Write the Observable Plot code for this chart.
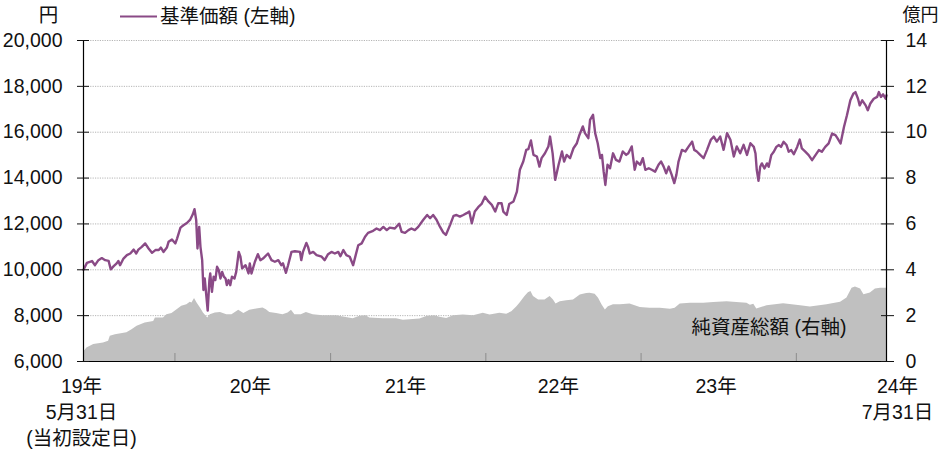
<!DOCTYPE html>
<html><head><meta charset="utf-8">
<script src="https://cdn.jsdelivr.net/npm/d3@7"></script>
<script src="https://cdn.jsdelivr.net/npm/@observablehq/plot@0.6"></script>
<style>
body{margin:0;background:#fff;}
#wrap{position:relative;width:941px;height:452px;font-family:"Liberation Sans",Arial,"Noto Sans CJK JP",sans-serif;color:#111;}
#legend{position:absolute;left:120px;top:4px;font-size:19.5px;line-height:24px;display:flex;align-items:center;}
#legend svg{display:block;}
</style></head><body>
<div id="wrap"><div id="legend"><svg width="40" height="24"><line x1="0" x2="37" y1="12.5" y2="12.5" stroke="#8a4a86" stroke-width="2"/></svg><span>基準価額 (左軸)</span></div></div>
<script>
// 基準価額 (円)
const nav = [
["2019-05-31",10000],["2019-06-08",10300],["2019-06-20",10380],["2019-06-27",10200],["2019-07-05",10420],["2019-07-13",10510],["2019-07-21",10420],["2019-07-29",10390],
["2019-08-03",10020],["2019-08-10",10160],["2019-08-17",10280],["2019-08-21",10380],["2019-08-25",10200],["2019-09-02",10490],["2019-09-10",10640],["2019-09-18",10710],
["2019-09-26",10880],["2019-10-02",10710],["2019-10-07",10880],["2019-10-15",11000],["2019-10-23",11150],["2019-10-31",10930],["2019-11-08",10740],["2019-11-16",10860],
["2019-11-24",10860],["2019-11-29",10970],["2019-12-05",10780],["2019-12-13",10970],["2019-12-17",11220],["2019-12-25",11320],["2020-01-02",11150],["2020-01-06",11360],
["2020-01-14",11840],["2020-01-21",11940],["2020-01-29",12040],["2020-02-06",12190],["2020-02-12",12420],["2020-02-16",12640],["2020-02-20",12160],["2020-02-23",10930],
["2020-02-27",11870],["2020-03-01",11000],["2020-03-05",10420],["2020-03-08",9120],["2020-03-11",9620],["2020-03-15",8830],["2020-03-18",8220],["2020-03-22",9550],
["2020-03-24",9840],["2020-03-28",9040],["2020-04-01",9700],["2020-04-05",9550],["2020-04-09",10130],["2020-04-13",9990],["2020-04-17",9620],["2020-04-21",9910],
["2020-04-25",9700],["2020-04-29",9620],["2020-05-02",9330],["2020-05-06",9550],["2020-05-10",9330],["2020-05-14",9700],["2020-05-20",9620],["2020-05-24",9910],
["2020-05-30",10780],["2020-06-03",10570],["2020-06-07",10060],["2020-06-15",10200],["2020-06-22",9840],["2020-06-25",10280],["2020-06-29",9840],["2020-07-07",10350],
["2020-07-14",10680],["2020-07-20",10420],["2020-07-26",10490],["2020-08-07",10710],["2020-08-15",10420],["2020-08-23",10350],["2020-08-31",10420],["2020-09-07",10200],
["2020-09-11",10280],["2020-09-18",9870],["2020-09-23",10200],["2020-10-01",10780],["2020-10-09",10810],["2020-10-21",10780],["2020-10-24",10420],["2020-10-28",10780],
["2020-11-05",11170],["2020-11-09",11000],["2020-11-13",10710],["2020-11-21",10780],["2020-11-29",10640],["2020-12-11",10570],["2020-12-18",10420],["2020-12-26",10680],
["2021-01-03",10780],["2021-01-11",10710],["2021-01-19",10780],["2021-01-24",10590],["2021-01-31",10860],["2021-02-07",10640],["2021-02-15",10570],["2021-02-23",10200],
["2021-03-01",10640],["2021-03-07",11070],["2021-03-15",11150],["2021-03-23",11440],["2021-03-30",11610],["2021-04-11",11700],["2021-04-19",11800],["2021-04-27",11730],
["2021-05-05",11870],["2021-05-13",11730],["2021-05-20",11840],["2021-06-01",11800],["2021-06-11",12010],["2021-06-17",11650],["2021-06-25",11610],["2021-07-03",11730],
["2021-07-10",11800],["2021-07-18",11730],["2021-07-26",11870],["2021-08-07",12180],["2021-08-16",12390],["2021-08-23",12250],["2021-08-30",12390],["2021-09-07",12180],
["2021-09-15",11880],["2021-09-23",11620],["2021-09-29",11520],["2021-10-09",11960],["2021-10-17",12350],["2021-10-24",12390],["2021-11-01",12320],["2021-11-09",12390],
["2021-11-17",12470],["2021-11-23",12540],["2021-11-29",12030],["2021-12-06",12540],["2021-12-14",12730],["2021-12-22",12870],["2021-12-30",13190],["2022-01-07",12980],
["2022-01-15",12830],["2022-01-23",12540],["2022-01-30",12900],["2022-02-07",12900],["2022-02-11",12540],["2022-02-19",12390],["2022-02-25",12870],["2022-03-07",12980],
["2022-03-15",13410],["2022-03-22",14360],["2022-03-30",14720],["2022-04-06",15230],["2022-04-11",15260],["2022-04-17",15640],["2022-04-23",15010],["2022-05-01",14940],
["2022-05-07",14500],["2022-05-12",14870],["2022-05-20",15080],["2022-05-28",15380],["2022-06-01",15810],["2022-06-07",15080],["2022-06-13",13920],["2022-06-21",14580],
["2022-06-29",15160],["2022-07-04",14720],["2022-07-10",15010],["2022-07-18",14870],["2022-07-26",15300],["2022-08-03",15520],["2022-08-09",15880],["2022-08-17",16250],
["2022-08-22",15960],["2022-08-30",15740],["2022-09-03",16540],["2022-09-10",16760],["2022-09-15",15960],["2022-09-21",15520],["2022-09-27",14870],["2022-10-01",15010],
["2022-10-05",14280],["2022-10-09",13700],["2022-10-14",14580],["2022-10-20",14430],["2022-10-27",15080],["2022-11-03",14790],["2022-11-11",14720],["2022-11-19",15160],
["2022-11-27",15010],["2022-12-02",15080],["2022-12-10",15380],["2022-12-17",14360],["2022-12-22",14720],["2022-12-30",14580],["2023-01-05",14870],["2023-01-11",14360],
["2023-01-19",14430],["2023-01-26",14360],["2023-02-03",14280],["2023-02-11",14580],["2023-02-17",14720],["2023-02-23",14500],["2023-03-01",14210],["2023-03-07",14500],
["2023-03-14",14140],["2023-03-20",13780],["2023-03-25",14140],["2023-03-30",14720],["2023-04-07",15230],["2023-04-15",15160],["2023-04-23",15380],["2023-05-01",15590],
["2023-05-06",15230],["2023-05-12",15160],["2023-05-20",15010],["2023-05-28",14870],["2023-06-05",15230],["2023-06-14",15670],["2023-06-21",15810],["2023-06-28",15590],
["2023-07-06",15810],["2023-07-14",15230],["2023-07-22",15960],["2023-07-30",15670],["2023-08-07",14940],["2023-08-14",15380],["2023-08-22",15080],["2023-08-30",15450],
["2023-09-07",15010],["2023-09-15",15520],["2023-09-23",15360],["2023-09-27",15070],["2023-09-30",14350],["2023-10-04",13880],["2023-10-08",14490],["2023-10-12",14640],
["2023-10-18",14420],["2023-10-24",14640],["2023-10-28",14490],["2023-11-03",15000],["2023-11-09",15150],["2023-11-15",15360],["2023-11-21",15440],["2023-11-26",15360],
["2023-12-02",15580],["2023-12-09",15440],["2023-12-14",15150],["2023-12-20",15220],["2023-12-26",15040],["2024-01-03",15360],["2024-01-09",15680],["2024-01-14",15290],
["2024-01-22",15150],["2024-01-30",15000],["2024-02-07",14780],["2024-02-15",15000],["2024-02-23",15220],["2024-03-01",15150],["2024-03-09",15360],["2024-03-17",15510],
["2024-03-25",15940],["2024-04-02",15870],["2024-04-07",15730],["2024-04-14",15510],["2024-04-22",16230],["2024-04-29",16740],["2024-05-07",17390],["2024-05-14",17680],
["2024-05-19",17750],["2024-05-25",17460],["2024-05-29",17170],["2024-06-04",17390],["2024-06-12",17170],["2024-06-17",16960],["2024-06-23",17250],["2024-07-01",17460],
["2024-07-09",17540],["2024-07-13",17750],["2024-07-18",17540],["2024-07-23",17650],["2024-07-29",17460],["2024-07-31",17610]
];
// 純資産総額 (億円)
const assets = [
["2019-05-31",0.40],["2019-06-08",0.59],["2019-06-24",0.74],["2019-07-17",0.81],["2019-07-29",0.88],["2019-08-02",1.10],["2019-08-14",1.17],["2019-09-10",1.25],
["2019-09-22",1.39],["2019-10-04",1.54],["2019-10-23",1.68],["2019-11-12",1.75],["2019-11-16",1.90],["2019-12-05",1.90],["2019-12-13",2.04],["2019-12-25",2.09],
["2020-01-06",2.26],["2020-01-17",2.41],["2020-01-29",2.48],["2020-02-06",2.58],["2020-02-10",2.55],["2020-02-16",2.75],["2020-02-22",2.55],["2020-03-01",2.33],
["2020-03-08",2.12],["2020-03-18",1.90],["2020-03-24",2.04],["2020-04-05",2.12],["2020-04-17",2.14],["2020-05-02",2.04],["2020-05-14",2.04],["2020-05-30",2.23],
["2020-06-11",2.09],["2020-06-25",2.23],["2020-07-11",2.29],["2020-07-26",2.33],["2020-08-03",2.26],["2020-08-11",2.14],["2020-08-27",2.09],["2020-09-11",2.04],
["2020-09-23",2.12],["2020-10-01",2.23],["2020-10-09",2.04],["2020-10-24",2.04],["2020-11-05",2.14],["2020-11-21",2.04],["2020-12-14",2.00],["2021-01-15",2.00],
["2021-01-31",1.94],["2021-02-23",1.86],["2021-03-11",1.97],["2021-03-26",2.00],["2021-04-03",1.90],["2021-05-05",1.86],["2021-06-05",1.86],["2021-06-21",1.80],
["2021-07-30",1.85],["2021-08-15",1.96],["2021-09-03",1.99],["2021-09-15",1.93],["2021-10-01",1.88],["2021-10-17",1.99],["2021-11-09",2.03],["2021-12-03",1.99],
["2021-12-26",2.10],["2022-01-11",2.03],["2022-02-03",2.10],["2022-02-19",2.06],["2022-03-03",2.17],["2022-03-15",2.39],["2022-03-22",2.54],["2022-04-03",2.83],
["2022-04-11",3.00],["2022-04-17",3.05],["2022-04-23",2.83],["2022-05-05",2.68],["2022-05-20",2.68],["2022-06-01",2.83],["2022-06-09",2.68],["2022-06-15",2.51],
["2022-06-25",2.61],["2022-07-10",2.65],["2022-07-26",2.68],["2022-08-11",2.90],["2022-08-26",2.97],["2022-09-03",2.98],["2022-09-15",2.93],["2022-09-23",2.76],
["2022-10-01",2.47],["2022-10-09",2.25],["2022-10-16",2.39],["2022-10-28",2.47],["2022-11-13",2.47],["2022-12-06",2.51],["2022-12-30",2.36],["2023-01-22",2.32],
["2023-02-15",2.32],["2023-03-11",2.28],["2023-03-22",2.32],["2023-04-03",2.51],["2023-04-27",2.54],["2023-05-28",2.54],["2023-06-21",2.57],["2023-07-22",2.61],
["2023-08-14",2.57],["2023-09-07",2.54],["2023-09-15",2.45],["2023-09-23",2.50],["2023-09-30",2.29],["2023-10-24",2.43],["2023-12-02",2.52],["2024-01-11",2.43],
["2024-02-03",2.38],["2024-03-13",2.48],["2024-04-14",2.58],["2024-04-29",2.77],["2024-05-11",3.20],["2024-05-19",3.25],["2024-05-31",3.16],["2024-06-08",2.91],
["2024-06-23",2.99],["2024-07-05",3.16],["2024-07-17",3.20],["2024-07-31",3.20]
];
const leftTicks = [6000, 8000, 10000, 12000, 14000, 16000, 18000, 20000];
const rightTickLabels = [0, 2, 4, 6, 8, 10, 12, 14];
const yearStarts = ["2020-01-01","2021-01-01","2022-01-01","2023-01-01","2024-01-01"];
const xLabels = [
  ["2019-05-31","19年\n5月31日\n(当初設定日)"],
  ["2020-07-01","20年"],["2021-07-01","21年"],["2022-06-25","22年"],["2023-07-01","23年"]
];
const xLabelEnd = [["2024-07-31","24年\n7月31日"]];
const periodStart = "2019-05-31", periodEnd = "2024-07-31";

const P = s => new Date(s + "T00:00:00Z");
const navData = nav.map(([d, v]) => ({date: P(d), value: v}));
// right axis (億円) mapped onto left scale: 0億円 = 6,000, 2億円 per 2,000円
const rightScale = d3.scaleLinear().domain([0, 14]).range([6000, 20000]);
const assetData = assets.map(([d, v]) => ({date: P(d), value: rightScale(v)}));
const t0 = P(periodStart), t1 = P(periodEnd);
const font = `"Liberation Sans", Arial, "Noto Sans CJK JP", sans-serif`;
const purple = "#8a4a86";
const fs = 19.5;

const chart = Plot.plot({
  width: 941, height: 452,
  marginLeft: 83, marginRight: 55, marginTop: 40, marginBottom: 91,
  x: {type: "utc", domain: [t0, t1]},
  y: {domain: [6000, 20000]},
  style: {fontFamily: font, fontSize: fs + "px", color: "#111", background: "transparent", overflow: "visible"},
  marks: [
    Plot.gridY(leftTicks.filter(d => d > 6000), {stroke: "#b5b5b5", strokeOpacity: 1, strokeDasharray: "1.2,1.2"}),
    Plot.areaY(assetData, {x: "date", y1: 6000, y2: "value", fill: "#c0c0c0", curve: "linear"}),
    Plot.axisX(yearStarts.map(P), {tickSize: -8, text: null, stroke: "#8c8c8c", label: null}),
    Plot.lineY(navData, {x: "date", y: "value", stroke: purple, strokeWidth: 2.4, strokeLinejoin: "round"}),
    Plot.ruleX([t0, t1], {stroke: "#000", strokeWidth: 1.2}),
    Plot.ruleY([6000], {stroke: "#000", strokeWidth: 1.2}),
    Plot.axisY(leftTicks, {anchor: "left", tickSize: 6, tickPadding: 15, tickFormat: d3.format(","), label: null, fontSize: fs}),
    Plot.axisY(leftTicks, {anchor: "left", tickSize: -6, text: null, label: null}),
    Plot.axisY(leftTicks, {anchor: "right", tickSize: 7, tickPadding: 12, tickFormat: d => rightTickLabels[leftTicks.indexOf(d)], label: null, fontSize: fs}),
    Plot.axisY(leftTicks, {anchor: "right", tickSize: -6, text: null, label: null}),
    Plot.text(xLabels, {x: d => P(d[0]), text: d => d[1], frameAnchor: "bottom", lineAnchor: "top", dy: 13, dx: -2, lineHeight: 1.33, fontSize: fs}),
    Plot.text(xLabelEnd, {x: d => P(d[0]), text: d => d[1], frameAnchor: "bottom", lineAnchor: "top", dy: 13, dx: 11, lineHeight: 1.33, fontSize: fs}),
    Plot.text(["円"], {text: d => d, frameAnchor: "top-left", dx: -35, dy: -25, textAnchor: "middle", lineAnchor: "middle", fontSize: fs}),
    Plot.text(["億円"], {text: d => d, frameAnchor: "top-right", dx: 52, dy: -25, textAnchor: "end", lineAnchor: "middle", fontSize: 18}),
    Plot.text(["純資産総額 (右軸)"], {text: d => d, frameAnchor: "bottom-right", dx: -40, dy: -34, textAnchor: "end", lineAnchor: "middle", fontSize: fs, fill: "#111"})
  ]
});
document.getElementById("wrap").prepend(chart);
</script>
</body></html>
